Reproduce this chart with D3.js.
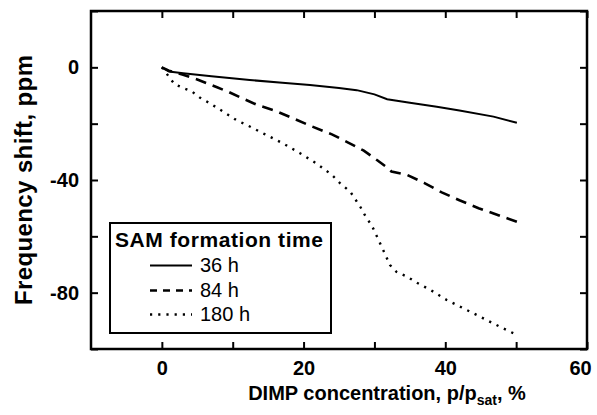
<!DOCTYPE html>
<html>
<head>
<meta charset="utf-8">
<script src="https://cdn.jsdelivr.net/npm/d3@7"></script>
<style>
  body { margin: 0; background: #fff; }
  svg { display: block; font-family: "Liberation Sans", Arial, Helvetica, sans-serif; }
</style>
</head>
<body>
<div id="chart"></div>
<script>
// ---- data ----
var seriesNames = ["36 h", "84 h", "180 h"];

var x36 = [0, 1, 3, 7, 12.4, 17, 20.9, 25, 27.5, 30, 31.8, 35, 38.8, 42, 46.8, 50.1];
var y36 = [0, -1.5, -2.1, -3.2, -4.5, -5.5, -6.3, -7.3, -8.1, -9.6, -11.3, -12.6, -14, -15.3, -17.5, -19.7];

var x84 = [0, 1, 3, 5, 7.7, 9.4, 11, 13.5, 16, 18.6, 21, 24, 26.3, 28.5, 30.4, 31.6, 32.4, 34.6, 37, 39.5, 42, 44.7, 47.5, 50.1];
var y84 = [0, -1.2, -2.6, -4.3, -7, -8.7, -10.6, -13.4, -15.4, -18.2, -20.8, -23.8, -26.7, -29.6, -33, -35.2, -37, -38.2, -41, -44.4, -47.2, -50, -52.5, -54.8];

var x180 = [0, 1.8, 3, 4.2, 5.4, 6.8, 8.7, 10.5, 12.4, 14.5, 17.1, 19.5, 21.8, 24, 25.1, 26.6, 28, 28.9, 29.6, 30.8, 31.5, 32.2, 33.1, 34.6, 36, 37.9, 40.2, 42.6, 44.9, 47.7, 50.1];
var y180 = [0, -6, -7.3, -8.5, -10.8, -12.8, -15.8, -18.7, -21, -23.7, -27, -30.5, -34.1, -38.2, -41, -44.2, -49.5, -53.6, -56, -62.5, -66.3, -70.2, -72.6, -74.3, -76.5, -79, -82.6, -85.6, -88.5, -92.1, -95];

var xTicks = [0, 10, 20, 30, 40, 50, 60];
var xLabels = [0, 20, 40, 60];
var yTicks = [-100, -80, -60, -40, -20, 0, 20];
var yLabels = [0, -40, -80];

// ---- layout ----
var width = 597, height = 415;
var margin = {left: 91, right: 10, top: 11, bottom: 66};

var svg = d3.select("#chart").append("svg")
    .attr("width", width)
    .attr("height", height);

var x = d3.scaleLinear().domain([-10, 60]).range([margin.left, width - margin.right]);
var y = d3.scaleLinear().domain([-100, 20]).range([height - margin.bottom, margin.top]);

var tickFont = function(g) {
  g.select(".domain").remove();
  g.selectAll("line").attr("stroke", "#000").attr("stroke-width", 2);
  g.selectAll("text").attr("font-size", 20).attr("font-weight", "bold").attr("fill", "#000")
    .attr("font-family", "'Liberation Sans', Arial, sans-serif");
};

// bottom & top
var bx = svg.append("g").attr("transform", "translate(0," + y(-100) + ")")
  .call(d3.axisBottom(x).tickValues(xTicks).tickSize(-7).tickPadding(12)
    .tickFormat(function(d) { return xLabels.indexOf(d) >= 0 ? d : ""; }))
  .call(tickFont);
// last label sits just inside the page edge
bx.selectAll(".tick text").filter(function(d) { return d === 60; }).attr("dx", -7);

svg.append("g").attr("transform", "translate(0," + y(20) + ")")
  .call(d3.axisTop(x).tickValues(xTicks).tickSize(-7).tickFormat(""))
  .call(tickFont);
// left & right
svg.append("g").attr("transform", "translate(" + x(-10) + ",0)")
  .call(d3.axisLeft(y).tickValues(yTicks).tickSize(-7).tickPadding(12)
    .tickFormat(function(d) { return yLabels.indexOf(d) >= 0 ? d : ""; }))
  .call(tickFont);
svg.append("g").attr("transform", "translate(" + x(60) + ",0)")
  .call(d3.axisRight(y).tickValues(yTicks).tickSize(-7).tickFormat(""))
  .call(tickFont);

// frame
svg.append("rect")
  .attr("x", x(-10)).attr("y", y(20))
  .attr("width", x(60) - x(-10)).attr("height", y(-100) - y(20))
  .attr("fill", "none").attr("stroke", "#000").attr("stroke-width", 2.5);

// lines
var styles = [
  {dash: null, w: 2},
  {dash: "11,7", w: 2.6},
  {dash: "2.2,6", w: 2.4}
];
var series = [
  d3.zip(x36, y36),
  d3.zip(x84, y84),
  d3.zip(x180, y180)
];

var line = d3.line().x(function(d) { return x(d[0]); }).y(function(d) { return y(d[1]); });

series.forEach(function(s, i) {
  svg.append("path")
    .attr("d", line(s))
    .attr("fill", "none")
    .attr("stroke", "#000")
    .attr("stroke-width", styles[i].w)
    .attr("stroke-dasharray", styles[i].dash);
});

// axis titles
svg.append("text")
  .attr("transform", "translate(32," + ((margin.top + height - margin.bottom) / 2) + ") rotate(-90)")
  .attr("text-anchor", "middle")
  .attr("font-size", 24).attr("font-weight", "bold")
  .attr("textLength", 250).attr("lengthAdjust", "spacing")
  .text("Frequency shift, ppm");

var xt = svg.append("text")
  .attr("x", 387).attr("y", 400)
  .attr("text-anchor", "middle")
  .attr("font-size", 20).attr("font-weight", "bold");
xt.append("tspan").text("DIMP concentration, p/p");
xt.append("tspan").attr("font-size", 14).attr("dy", 5).text("sat");
xt.append("tspan").attr("dy", -5).text(", %");

// legend
var lg = svg.append("g");
lg.append("rect")
  .attr("x", 110).attr("y", 223).attr("width", 221).attr("height", 110)
  .attr("fill", "#fff").attr("stroke", "#000").attr("stroke-width", 2);
lg.append("text")
  .attr("x", 115).attr("y", 247)
  .attr("font-size", 21).attr("font-weight", "bold")
  .attr("textLength", 208).attr("lengthAdjust", "spacing")
  .text("SAM formation time");

var entryBase = [272, 297, 321];
seriesNames.forEach(function(name, i) {
  lg.append("line")
    .attr("x1", 150).attr("x2", 192)
    .attr("y1", entryBase[i] - 6.5).attr("y2", entryBase[i] - 6.5)
    .attr("stroke", "#000")
    .attr("stroke-width", styles[i].w)
    .attr("stroke-dasharray", i === 1 ? "7,6" : styles[i].dash);
  lg.append("text")
    .attr("x", 200).attr("y", entryBase[i])
    .attr("font-size", 20)
    .text(name);
});
</script>
</body>
</html>
